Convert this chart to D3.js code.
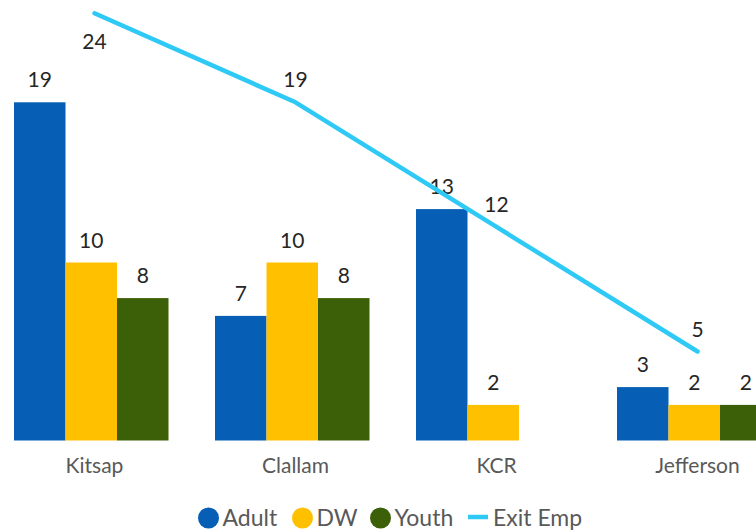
<!DOCTYPE html>
<html><head><meta charset="utf-8">
<script src="https://cdn.jsdelivr.net/npm/d3@7/dist/d3.min.js"></script>
<style>body{margin:0;background:#fff;}svg{display:block;font-family:Lato,"Open Sans",sans-serif;}</style>
</head><body><svg id="c" width="756" height="532"></svg>
<script>
const categories = ["Kitsap","Clallam","KCR","Jefferson"];
const seriesNames = ["Adult","DW","Youth"];
const adult = [19,7,13,3];
const dw = [10,10,2,2];
const youth = [8,8,null,2];
const exitEmp = [24,19,12,5];
const lineName = "Exit Emp";
const colors = {Adult:"#065FB5", DW:"#FFC000", Youth:"#3B6008", "Exit Emp":"#2FC9F6"};

const svg = d3.select("#c");
const x = d3.scaleBand().domain(categories).range([-6, 798]).padding(0);
const y = d3.scaleLinear().domain([0,25]).range([440.5, -4.5]);
const inner = d3.scaleBand().domain(seriesNames).range([-80.5, 74]);
const values = {Adult: adult, DW: dw, Youth: youth};
const cx = c => x(c) + x.bandwidth()/2;

const g = svg.append("g");
seriesNames.forEach(s => {
  const data = categories.map((c,i)=>({c, v: values[s][i]})).filter(d=>d.v!=null);
  g.selectAll(null).data(data).enter().append("rect")
    .attr("x", d=>cx(d.c)+inner(s)).attr("width", inner.bandwidth())
    .attr("y", d=>y(d.v)).attr("height", d=>y(0)-y(d.v))
    .attr("fill", colors[s]);
  g.selectAll(null).data(data).enter().append("text")
    .attr("x", d=>cx(d.c)+inner(s)+inner.bandwidth()/2)
    .attr("y", d=>y(d.v)-15)
    .attr("text-anchor","middle").attr("font-size",21).attr("fill","#262626")
    .text(d=>d.v);
});

const lineData = categories.map((c,i)=>({c, v: exitEmp[i]}));
const line = d3.line().x(d=>cx(d.c)).y(d=>y(d.v));
g.append("path").datum(lineData).attr("d", line)
  .attr("fill","none").attr("stroke",colors["Exit Emp"]).attr("stroke-width",4.5)
  .attr("stroke-linecap","round").attr("stroke-linejoin","round");
g.selectAll(null).data(lineData).enter().append("text")
  .attr("x", d=>cx(d.c))
  .attr("y", d=> (y(d.v)-15 < 20) ? y(d.v)+36 : y(d.v)-15)
  .attr("text-anchor","middle").attr("font-size",21).attr("fill","#262626")
  .text(d=>d.v);

// x axis labels
const xAxis = d3.axisBottom(x).tickSize(0).tickPadding(0);
const ax = svg.append("g").attr("transform","translate(0,440.5)").call(xAxis);
ax.select(".domain").remove();
ax.selectAll("text").attr("font-size",21).attr("fill","#595959")
  .attr("dy",null).attr("y",32.5).attr("font-family","Lato");

// legend
const legendItems = seriesNames.concat([lineName]);
const lx = [208.5, 302.5, 380.5, 468];
const lg = svg.append("g");
legendItems.forEach((s,i)=>{
  if (s === lineName) {
    lg.append("line").attr("x1",lx[i]).attr("x2",lx[i]+20).attr("y1",517).attr("y2",517)
      .attr("stroke",colors[s]).attr("stroke-width",4.5);
    lg.append("text").attr("x",lx[i]+25).attr("y",526).attr("font-size",23).attr("fill","#595959").text(s);
  } else {
    lg.append("circle").attr("cx",lx[i]).attr("cy",518).attr("r",10.5).attr("fill",colors[s]);
    lg.append("text").attr("x",lx[i]+14).attr("y",526).attr("font-size",23).attr("fill","#595959").text(s);
  }
});
</script></body></html>
